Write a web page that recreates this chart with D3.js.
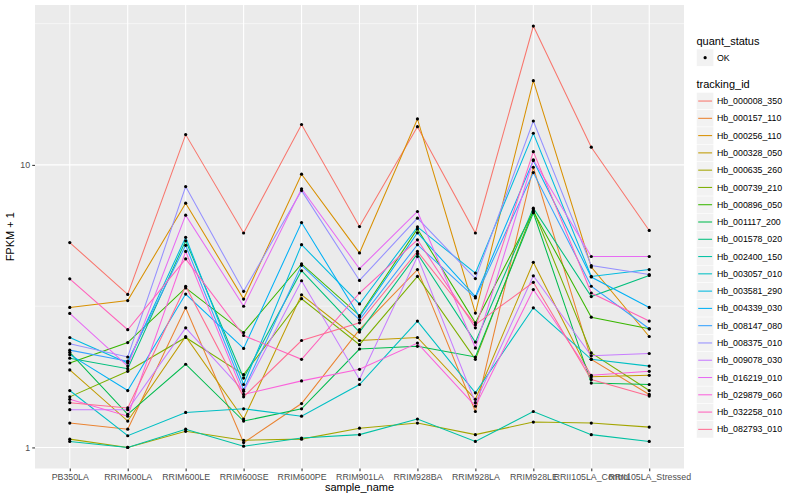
<!DOCTYPE html>
<html>
<head>
<meta charset="utf-8">
<script src="https://cdn.jsdelivr.net/npm/d3@7"></script>
<style>
  body { margin: 0; background: #fff; }
  text { font-family: "Liberation Sans", Arial, Helvetica, sans-serif; }
</style>
</head>
<body>
<div id="chart"></div>
<script>
// Samples on the x axis
const samples = [
    "PB350LA", "RRIM600LA", "RRIM600LE", "RRIM600SE", "RRIM600PE", "RRIM901LA",
    "RRIM928BA", "RRIM928LA", "RRIM928LE", "RRII105LA_Control", "RRII105LA_Stressed"
];

const trackingIds = [
    "Hb_000008_350", "Hb_000157_110", "Hb_000256_110", "Hb_000328_050", "Hb_000635_260",
    "Hb_000739_210", "Hb_000896_050", "Hb_001117_200", "Hb_001578_020", "Hb_002400_150",
    "Hb_003057_010", "Hb_003581_290", "Hb_004339_030", "Hb_008147_080", "Hb_008375_010",
    "Hb_009078_030", "Hb_016219_010", "Hb_029879_060", "Hb_032258_010", "Hb_082793_010"
];

// FPKM + 1, one value per sample
const hb000008_350 = [5.31, 3.48, 12.8, 5.74, 13.9, 6.05, 13.65, 5.74, 31.0, 11.55, 5.86];
const hb000157_110 = [1.22, 1.16, 3.12, 1.04, 1.43, 2.61, 4.26, 1.34, 9.81, 2.05, 1.54];
const hb000256_110 = [3.13, 3.31, 7.32, 3.35, 9.27, 4.88, 14.54, 2.99, 19.86, 4.35, 2.47];
const hb000328_050 = [1.88, 1.24, 2.47, 1.26, 3.47, 2.39, 2.45, 1.48, 4.52, 1.78, 1.80];
const hb000635_260 = [1.07, 1.00, 1.14, 1.06, 1.07, 1.17, 1.22, 1.11, 1.23, 1.22, 1.18];
const hb000739_210 = [1.51, 1.86, 2.45, 1.81, 3.36, 2.31, 4.03, 2.05, 6.93, 2.16, 1.59];
const hb000896_050 = [1.99, 2.35, 3.67, 2.55, 4.46, 2.93, 5.93, 2.76, 6.84, 2.89, 2.63];
const hb001117_200 = [2.17, 1.31, 1.97, 1.24, 1.37, 2.23, 2.28, 2.09, 6.77, 1.69, 1.67];
const hb001578_020 = [2.07, 1.90, 5.39, 1.76, 4.22, 2.56, 4.85, 2.36, 7.03, 3.42, 4.06];
const hb002400_150 = [1.05, 1.00, 1.16, 1.01, 1.08, 1.11, 1.26, 1.05, 1.34, 1.11, 1.05];
const hb003057_010 = [1.59, 1.10, 1.33, 1.37, 1.29, 1.67, 2.80, 1.56, 3.12, 2.05, 1.94];
const hb003581_290 = [2.45, 1.99, 5.54, 1.67, 5.22, 3.22, 6.03, 4.14, 12.94, 4.03, 4.26];
const hb004339_030 = [2.13, 1.59, 3.49, 2.24, 6.25, 2.90, 5.75, 3.42, 10.36, 4.01, 3.13];
const hb008147_080 = [2.21, 2.02, 5.19, 1.60, 4.41, 2.83, 5.22, 3.38, 9.39, 3.72, 2.63];
const hb008375_010 = [2.33, 2.09, 8.38, 3.57, 8.11, 3.90, 6.48, 3.96, 14.30, 4.40, 4.09];
const hb009078_030 = [1.36, 1.36, 2.65, 1.58, 3.89, 1.74, 4.74, 1.44, 4.05, 2.11, 2.15];
const hb016219_010 = [2.98, 1.94, 6.64, 3.16, 8.23, 4.29, 6.84, 2.25, 10.42, 4.74, 4.74];
const hb029879_060 = [1.48, 1.29, 4.94, 1.54, 1.72, 1.89, 2.34, 1.40, 3.62, 1.80, 1.86];
const hb032258_010 = [3.95, 2.61, 4.65, 2.49, 2.05, 3.52, 5.43, 2.65, 11.14, 3.52, 2.80];
const hb082793_010 = [1.44, 1.38, 3.72, 1.51, 2.39, 2.76, 4.94, 2.72, 3.84, 1.74, 1.52];

const fpkmRows = [
    hb000008_350, hb000157_110, hb000256_110, hb000328_050, hb000635_260,
    hb000739_210, hb000896_050, hb001117_200, hb001578_020, hb002400_150,
    hb003057_010, hb003581_290, hb004339_030, hb008147_080, hb008375_010,
    hb009078_030, hb016219_010, hb029879_060, hb032258_010, hb082793_010
];

const yBreaks = [1, 10];
const yMinorBreaks = [Math.pow(10, 0.5), Math.pow(10, 1.5)];
const quantStatus = ["OK"];

// ggplot default hue palette for 20 levels
const palette = [
    "#F8766D", "#EA8331", "#D89000", "#C09B00", "#A3A500", "#7CAE00", "#39B600",
    "#00BB4E", "#00BF7D", "#00C1A3", "#00BFC4", "#00BAE0", "#00B0F6", "#35A2FF",
    "#9590FF", "#C77CFF", "#E76BF3", "#FA62DB", "#FF62BC", "#FF6C91"
];

const series = trackingIds.map((id, i) => ({
    id: id,
    values: fpkmRows[i].map((v, j) => ({sample: samples[j], value: v}))
}));

// Panel box
const W = 800, H = 500;
const panel = {left: 35, right: 684, top: 5, bottom: 468.5};

const svg = d3.select("#chart")
    .append("svg")
    .attr("width", W)
    .attr("height", H);

svg.append("rect").attr("width", W).attr("height", H).attr("fill", "#fff");

// Scales
const x = d3.scalePoint()
    .domain(samples)
    .range([panel.left, panel.right])
    .padding(0.6);

const allVals = fpkmRows.flat();
const lo = Math.log10(d3.min(allVals));
const hi = Math.log10(d3.max(allVals));
const pad = (hi - lo) * 0.05;

const y = d3.scaleLog()
    .domain([Math.pow(10, lo - pad), Math.pow(10, hi + pad)])
    .range([panel.bottom, panel.top]);

// Panel background and grid
svg.append("rect")
    .attr("x", panel.left)
    .attr("y", panel.top)
    .attr("width", panel.right - panel.left)
    .attr("height", panel.bottom - panel.top)
    .attr("fill", "#EBEBEB");

const grid = svg.append("g");

grid.selectAll(".minor")
    .data(yMinorBreaks)
    .enter().append("line")
    .attr("x1", panel.left).attr("x2", panel.right)
    .attr("y1", d => y(d)).attr("y2", d => y(d))
    .attr("stroke", "#fff").attr("stroke-width", 0.55);

grid.selectAll(".major-y")
    .data(yBreaks)
    .enter().append("line")
    .attr("x1", panel.left).attr("x2", panel.right)
    .attr("y1", d => y(d)).attr("y2", d => y(d))
    .attr("stroke", "#fff").attr("stroke-width", 1.1);

grid.selectAll(".major-x")
    .data(samples)
    .enter().append("line")
    .attr("x1", d => x(d)).attr("x2", d => x(d))
    .attr("y1", panel.top).attr("y2", panel.bottom)
    .attr("stroke", "#fff").attr("stroke-width", 1.1);

// Lines
const line = d3.line()
    .x(d => x(d.sample))
    .y(d => y(d.value));

svg.append("g")
    .selectAll("path")
    .data(series)
    .enter().append("path")
    .attr("d", d => line(d.values))
    .attr("fill", "none")
    .attr("stroke", (d, i) => palette[i])
    .attr("stroke-width", 1.05);

// Points
svg.append("g")
    .selectAll("circle")
    .data(series.flatMap(s => s.values))
    .enter().append("circle")
    .attr("cx", d => x(d.sample))
    .attr("cy", d => y(d.value))
    .attr("r", 1.6)
    .attr("fill", "#000");

// Axes
const yAxis = d3.axisLeft(y)
    .tickValues(yBreaks)
    .tickFormat(d3.format("d"))
    .tickSize(2.75)
    .tickPadding(2.2);

const xAxis = d3.axisBottom(x)
    .tickSize(2.75)
    .tickPadding(2.2);

const gy = svg.append("g")
    .attr("transform", `translate(${panel.left},0)`)
    .call(yAxis);

const gx = svg.append("g")
    .attr("transform", `translate(0,${panel.bottom})`)
    .call(xAxis);

[gx, gy].forEach(g => {
    g.select(".domain").remove();
    g.selectAll(".tick line").attr("stroke", "#333333").attr("stroke-width", 1.05);
    g.selectAll(".tick text")
        .attr("fill", "#4D4D4D")
        .style("font-size", "8.8px")
        .style("font-family", "'Liberation Sans', Arial, sans-serif");
});

// Axis titles
svg.append("text")
    .attr("x", (panel.left + panel.right) / 2)
    .attr("y", 491)
    .attr("text-anchor", "middle")
    .style("font-size", "11px")
    .text("sample_name");

svg.append("text")
    .attr("transform", `translate(13.5,${(panel.top + panel.bottom) / 2}) rotate(-90)`)
    .attr("text-anchor", "middle")
    .style("font-size", "11px")
    .text("FPKM + 1");

// Legends
const keySize = 17.28;
const legendX = 696.5;

const legend = svg.append("g");

legend.append("text")
    .attr("x", legendX)
    .attr("y", 44.5)
    .style("font-size", "11px")
    .text("quant_status");

const qKeys = legend.selectAll(".qkey")
    .data(quantStatus)
    .enter().append("g")
    .attr("transform", (d, i) => `translate(${legendX},${49 + i * keySize})`);

qKeys.append("rect")
    .attr("width", keySize).attr("height", keySize)
    .attr("fill", "#F2F2F2").attr("stroke", "#fff").attr("stroke-width", 0.5);

qKeys.append("circle")
    .attr("cx", keySize / 2).attr("cy", keySize / 2)
    .attr("r", 1.6).attr("fill", "#000");

qKeys.append("text")
    .attr("x", keySize + 3.2)
    .attr("y", keySize / 2)
    .attr("dy", "0.35em")
    .style("font-size", "8.8px")
    .text(d => d);

legend.append("text")
    .attr("x", legendX)
    .attr("y", 88)
    .style("font-size", "11px")
    .text("tracking_id");

const tKeys = legend.selectAll(".tkey")
    .data(trackingIds)
    .enter().append("g")
    .attr("transform", (d, i) => `translate(${legendX},${92.4 + i * keySize})`);

tKeys.append("rect")
    .attr("width", keySize).attr("height", keySize)
    .attr("fill", "#F2F2F2").attr("stroke", "#fff").attr("stroke-width", 0.5);

tKeys.append("line")
    .attr("x1", 1.7).attr("x2", keySize - 1.7)
    .attr("y1", keySize / 2).attr("y2", keySize / 2)
    .attr("stroke", (d, i) => palette[i])
    .attr("stroke-width", 1.05);

tKeys.append("text")
    .attr("x", keySize + 3.2)
    .attr("y", keySize / 2)
    .attr("dy", "0.35em")
    .style("font-size", "8.8px")
    .text(d => d);
</script>
</body>
</html>
